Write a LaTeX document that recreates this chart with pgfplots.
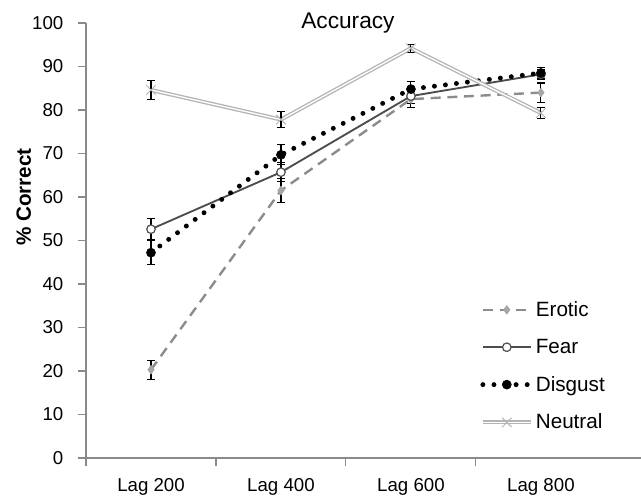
\documentclass[border=0pt]{standalone}
\usepackage{fontspec}
\setmainfont{Liberation Sans}
\usepackage{pgfplots}
\usepackage{pgfplotstable}
\pgfplotsset{compat=1.18}
\definecolor{erocol}{HTML}{8C8C8C}
\definecolor{eromark}{HTML}{A6A6A6}
\definecolor{fearcol}{HTML}{4D4D4D}
\definecolor{neucol}{HTML}{B4B4B4}
\definecolor{axcol}{HTML}{8A8A8A}

% lag index, mean and error per condition
\pgfplotstableread{
x ero  eroe fear feare dis  dise neu  neue
0 20.3 2.2  52.6 2.4   47.2 2.8  84.6 2.2
1 61.5 2.8  65.7 2.2   69.7 2.3  77.8 1.8
2 82.5 2.0  83.2 1.6   84.8 1.7  94.2 0.9
3 84.0 2.2  88.2 1.2   88.5 1.2  79.3 1.3
}\acc

\begin{document}
\begin{tikzpicture}
\begin{axis}[
  scale only axis, width=416.25pt, height=326.25pt,
  xmin=-0.5, xmax=3.77, ymin=0, ymax=100,
  axis x line=bottom, axis y line=left,
  axis line style={-, axcol, line width=0.8pt},
  tick align=outside, major tick length=6pt,
  tick style={axcol, line width=0.8pt},
  ytick={0,10,...,100},
  yticklabel style={xshift=-7.5pt},
  xtick={-0.5,0.5,1.5,2.5}, xticklabels={},
  extra x ticks={0,1,2,3},
  extra x tick labels={Lag 200,Lag 400,Lag 600,Lag 800},
  extra x tick style={major tick length=0pt, xticklabel style={yshift=-11.5pt}},
  ticklabel style={font=\fontsize{14}{16}\selectfont, text=black},
  /pgf/number format/assume math mode=true,
  ylabel={\% Correct},
  ylabel style={font=\fontsize{15.5}{18}\selectfont\bfseries, at={(axis description cs:-0.112,0.6)}, anchor=center},
  title={Accuracy},
  title style={font=\fontsize{17}{20}\selectfont, at={(axis description cs:0.472,1)}, anchor=base, yshift=-10pt},
  legend style={at={(axis description cs:0.703,0.373)}, anchor=north west,
    draw=none, fill=none, row sep=11.6pt, font=\fontsize{15.5}{18}\selectfont},
  legend cell align=left,
  legend image code/.code={\draw[mark repeat=2, mark phase=2]
    plot coordinates {(0cm,0cm) (0.63cm,0cm) (1.26cm,0cm)};},
]
\addplot[erocol, line width=1.8pt, dash pattern=on 7.5pt off 5pt,
  mark=diamond*, mark size=3.2pt, mark options={solid, eromark, line width=0.5pt}]
  table[x=x, y=ero] {\acc};
\addplot[fearcol, line width=1.4pt,
  mark=*, mark size=3.2pt, mark options={solid, draw=fearcol, fill=white, line width=0.9pt}]
  table[x=x, y=fear] {\acc};
\addplot[black, line width=3.7pt, line cap=round, dash pattern=on 0pt off 8.3pt,
  mark=*, mark size=3.4pt, mark options={solid, fill=black, line width=0.4pt}]
  table[x=x, y=dis] {\acc};
\addplot[neucol, line width=1pt, double=white, double distance=1pt,
  mark=x, mark size=5pt, mark options={solid, line width=0.7pt}]
  table[x=x, y=neu] {\acc};
\legend{Erotic, Fear, Disgust, Neutral}

% error bars
\pgfplotsset{errs/.style={forget plot, draw=none, mark=none,
  error bars/.cd, y dir=both, y explicit,
  error bar style={draw=black, line width=0.8pt},
  error mark options={draw=black, rotate=90, mark size=3pt, line width=0.8pt}}}
\addplot[errs] table[x=x, y=ero, y error=eroe] {\acc};
\addplot[errs] table[x=x, y=fear, y error=feare] {\acc};
\addplot[errs] table[x=x, y=dis, y error=dise] {\acc};
\addplot[errs] table[x=x, y=neu, y error=neue] {\acc};
\end{axis}
\pgfresetboundingbox
\path (-64.5pt,-28.5pt) rectangle (416.25pt,343.5pt);
\end{tikzpicture}
\end{document}
